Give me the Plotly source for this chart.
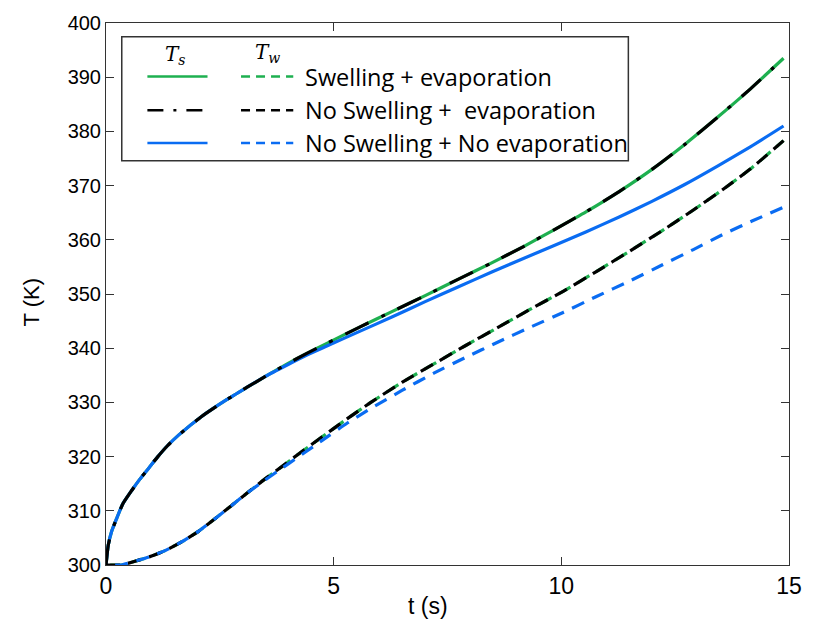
import plotly.graph_objects as go

# ---------------- data ----------------
t_s = [0, 0.05, 0.12, 0.23, 0.37, 0.56, 0.74, 0.95, 1.13, 1.35, 1.6, 2.1, 2.65, 3.1, 3.5, 4.0, 4.4,
       4.85, 5.57, 6.29, 7.01, 7.73, 8.46, 9.18, 9.83, 10.55, 11.27, 11.99, 12.71, 13.43, 14.16, 14.88]
Ts_swell_evap = [300, 303.7, 306.1, 308.5, 311.3, 313.7, 315.8, 318.0, 319.9, 322.0, 324.0, 327.4, 330.5,
                 332.8, 334.8, 337.2, 339.0, 340.9, 343.9, 346.8, 349.7, 352.7, 355.7, 358.8, 361.8,
                 365.2, 368.9, 373.0, 377.6, 382.6, 387.9, 393.5]
Ts_noswell_evap = [300, 303.7, 306.1, 308.5, 311.3, 313.7, 315.8, 318.0, 319.9, 322.0, 324.0, 327.4, 330.5,
                   332.8, 334.8, 337.2, 339.0, 340.9, 343.9, 346.8, 349.7, 352.7, 355.7, 358.8, 361.8,
                   365.2, 368.9, 373.0, 377.6, 382.6, 387.9, 393.5]
Ts_noswell_noevap = [300, 303.7, 306.1, 308.5, 311.3, 313.7, 315.8, 318.0, 319.9, 322.0, 324.0, 327.4, 330.5,
                     332.8, 334.8, 337.0, 338.7, 340.4, 343.1, 345.8, 348.6, 351.3, 354.0, 356.6, 358.9,
                     361.5, 364.2, 367.1, 370.2, 373.6, 377.2, 381.0]

t_w = [0, 0.34, 0.6, 0.95, 1.31, 1.67, 2.03, 2.4, 2.76, 3.12, 3.48, 3.87, 4.2, 4.56, 4.92, 5.3,
       5.8, 6.5, 7.2, 7.9, 8.6, 9.3, 10.04, 10.76, 11.5, 12.2, 12.9, 13.6, 14.2, 14.88]
Tw_swell_evap = [300, 300.0, 300.6, 301.5, 302.7, 304.3, 306.2, 308.6, 311.0, 313.4, 315.8, 318.2, 320.3,
                 322.5, 324.7, 327.0, 329.9, 333.7, 337.1, 340.5, 343.8, 347.1, 350.5, 354.1, 357.9,
                 361.6, 365.5, 369.6, 373.4, 378.3]
Tw_noswell_evap = [300, 300.0, 300.6, 301.5, 302.7, 304.3, 306.2, 308.6, 311.0, 313.4, 315.8, 318.2, 320.3,
                   322.5, 324.7, 327.0, 329.9, 333.7, 337.1, 340.5, 343.8, 347.1, 350.5, 354.1, 357.9,
                   361.6, 365.5, 369.6, 373.4, 378.3]
Tw_noswell_noevap = [300, 300.0, 300.6, 301.5, 302.7, 304.3, 306.2, 308.6, 311.0, 313.4, 315.6, 317.9, 319.8,
                     321.9, 324.0, 326.2, 328.8, 332.2, 335.4, 338.3, 341.1, 343.8, 346.6, 349.5, 352.4,
                     355.3, 358.2, 361.2, 363.5, 366.0]

x_ticks = [0, 5, 10, 15]
y_ticks = [300, 310, 320, 330, 340, 350, 360, 370, 380, 390, 400]
case_labels = ["Swelling + evaporation", "No Swelling +\u00a0 evaporation", "No Swelling + No evaporation"]

GREEN = "#1eb050"
BLACK = "#000000"
BLUE = "#0a6cf2"
AX = "#333333"

# ---------------- figure ----------------
fig = go.Figure()
LW = 3.2
SM = 0.5


def add(x, y, color, dash):
    fig.add_trace(go.Scatter(x=x, y=y, mode="lines", showlegend=False, hoverinfo="skip",
                             line=dict(color=color, width=LW, dash=dash, shape="spline", smoothing=SM)))


# surface temperatures (green under blue under black dash-dot)
add(t_s, Ts_swell_evap, GREEN, "solid")
add(t_s, Ts_noswell_noevap, BLUE, "solid")
add(t_s, Ts_noswell_evap, BLACK, "26px,14px,4px,14px")
# wall temperatures (dashed)
add(t_w, Tw_swell_evap, GREEN, "0px,4px,14px,4px")
add(t_w, Tw_noswell_evap, BLACK, "14px,8px")
add(t_w, Tw_noswell_noevap, BLUE, "0px,9px,13px,0px")

# plot area in pixels
L, R, T, B = 106, 799, 18, 565
W, H = 814, 624


def px(x):
    return (x - L) / (R - L)


def py(y):
    return (B - y) / (B - T)


shapes = []
# legend box
shapes.append(dict(type="rect", xref="paper", yref="paper", x0=px(122), x1=px(636), y0=py(157), y1=py(32),
                   line=dict(color=AX, width=1.5), fillcolor="white", layer="above"))
rows = [72, 106, 139]
colors = [GREEN, BLACK, BLUE]
ts_dash = ["solid", "16px,10px,3px,10px", "solid"]
annotations = []
for r, c, d, lab in zip(rows, colors, ts_dash, case_labels):
    shapes.append(dict(type="line", xref="paper", yref="paper", x0=px(148), x1=px(209), y0=py(r), y1=py(r),
                       line=dict(color=c, width=2.5, dash=d), layer="above"))
    shapes.append(dict(type="line", xref="paper", yref="paper", x0=px(243), x1=px(296), y0=py(r), y1=py(r),
                       line=dict(color=c, width=2.5, dash="9px,6px"), layer="above"))
    annotations.append(dict(xref="paper", yref="paper", x=px(306), y=py(r), xanchor="left", yanchor="middle",
                            text=lab, showarrow=False,
                            font=dict(family="Open Sans", size=23.5, color="black")))

annotations.append(dict(xref="paper", yref="paper", x=px(177), y=py(50), xanchor="center", yanchor="middle",
                        text="<i>T</i><sub><i>s</i></sub>", showarrow=False,
                        font=dict(family="DejaVu Serif", size=20, color="black")))
annotations.append(dict(xref="paper", yref="paper", x=px(270), y=py(48), xanchor="center", yanchor="middle",
                        text="<i>T</i><sub><i>w</i></sub>", showarrow=False,
                        font=dict(family="DejaVu Serif", size=20, color="black")))
# axis titles
annotations.append(dict(xref="paper", yref="paper", x=px(30), y=py(300), xanchor="center", yanchor="middle",
                        text="T (K)", textangle=-90, showarrow=False,
                        font=dict(family="Liberation Sans", size=22, color="black")))
annotations.append(dict(xref="paper", yref="paper", x=px(433), y=py(606), xanchor="center", yanchor="middle",
                        text="t (s)", showarrow=False,
                        font=dict(family="Liberation Sans", size=23, color="black")))

fig.update_layout(
    width=W, height=H,
    margin=dict(l=L, r=W - R, t=T, b=H - B),
    paper_bgcolor="white", plot_bgcolor="white",
    shapes=shapes, annotations=annotations,
    xaxis=dict(range=[0, 15], tickvals=x_ticks, ticks="inside", ticklen=8, tickcolor=AX,
               showline=True, linecolor=AX, linewidth=1, mirror="ticks", showgrid=False, zeroline=False,
               tickfont=dict(family="Liberation Sans", size=23, color="black")),
    yaxis=dict(range=[300, 400], tickvals=y_ticks, ticks="inside", ticklen=8, tickcolor=AX,
               showline=True, linecolor=AX, linewidth=1, mirror="ticks", showgrid=False, zeroline=False,
               tickfont=dict(family="Liberation Sans", size=20, color="black")),
)

fig.write_html("out.html")
